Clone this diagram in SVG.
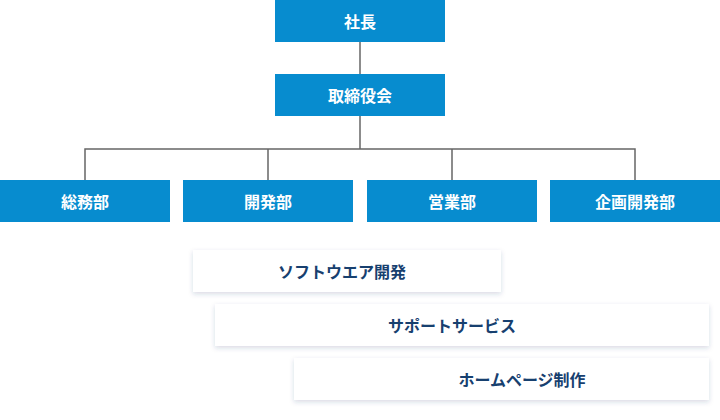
<svg xmlns="http://www.w3.org/2000/svg" width="720" height="420" viewBox="0 0 720 420">
<defs>
<style>
.b{fill:#078ccf}
.w{fill:#ffffff;filter:url(#sh)}
.t{font-family:"Noto Sans CJK JP","Noto Sans",sans-serif;font-size:16px;font-weight:bold;fill:#ffffff;text-anchor:middle;dominant-baseline:central}
.s{font-family:"Noto Sans CJK JP","Noto Sans",sans-serif;font-size:16px;font-weight:bold;fill:#17406f;text-anchor:middle;dominant-baseline:central}
.c{stroke:#666666;stroke-width:1.5;fill:none}
</style>
<filter id="sh" x="-10%" y="-30%" width="120%" height="170%">
<feDropShadow dx="0" dy="2" stdDeviation="2.5" flood-color="#1a3c6e" flood-opacity="0.18"/>
</filter>
</defs>
<g id="connectors">
<line class="c" x1="360" y1="42" x2="360" y2="74"/>
<line class="c" x1="360" y1="116" x2="360" y2="149"/>
<polyline class="c" points="85,180 85,149 635,149 635,180"/>
<line class="c" x1="268" y1="149" x2="268" y2="180"/>
<line class="c" x1="452" y1="149" x2="452" y2="180"/>
</g>
<g id="president"><rect class="b" x="275" y="0" width="170" height="42"/><text class="t" x="360" y="21">社長</text></g>
<g id="board"><rect class="b" x="275" y="74" width="170" height="42"/><text class="t" x="360" y="95">取締役会</text></g>
<g id="soumu"><rect class="b" x="0" y="180" width="170" height="42"/><text class="t" x="85" y="201">総務部</text></g>
<g id="kaihatsu"><rect class="b" x="183" y="180" width="170" height="42"/><text class="t" x="268" y="201">開発部</text></g>
<g id="eigyo"><rect class="b" x="367" y="180" width="170" height="42"/><text class="t" x="452" y="201">営業部</text></g>
<g id="kikaku"><rect class="b" x="550" y="180" width="170" height="42"/><text class="t" x="635" y="201">企画開発部</text></g>
<g id="software"><rect class="w" x="193" y="250" width="308" height="42"/><text class="s" x="342" y="271">ソフトウエア開発</text></g>
<g id="support"><rect class="w" x="215" y="304" width="494" height="42"/><text class="s" x="452" y="325">サポートサービス</text></g>
<g id="homepage"><rect class="w" x="294" y="358" width="415" height="42"/><text class="s" x="522" y="379">ホームページ制作</text></g>
</svg>
